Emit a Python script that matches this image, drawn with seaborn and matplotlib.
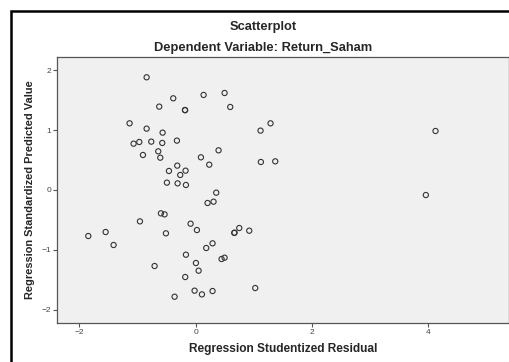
import matplotlib
matplotlib.use("Agg")
import matplotlib.pyplot as plt
import seaborn as sns
import pandas as pd
from matplotlib.patches import Rectangle

# Regression Studentized Residual (x) / Regression Standardized Predicted Value (y)
residual = [-0.842, -0.384, 0.138, 0.499, -0.625, -0.183, -0.180, 0.596, -1.135, 1.289,
            -0.842, -0.567, 1.117, 4.126, -1.066, -0.968, -0.762, -0.573, -0.321, -0.642,
            0.395, -0.905, -0.607, 0.092, 0.235, 1.123, 1.370, -0.315, -0.458, -0.172,
            -0.264, -0.493, -0.309, -0.166, 0.355, 3.960, 0.309, 0.206, -0.596, -0.533,
            -0.957, -0.086, -1.547, -1.845, -0.510, 0.023, 0.751, 0.670, 0.665, 0.923,
            -1.410, 0.292, 0.183, -0.166, 0.447, 0.499, 0.006, -0.705, 0.052, -0.178,
            -0.017, 0.292, 0.109, 1.026, -0.361]
predicted = [1.883, 1.532, 1.588, 1.621, 1.393, 1.337, 1.333, 1.387, 1.114, 1.114,
             1.025, 0.958, 0.992, 0.986, 0.774, 0.802, 0.808, 0.786, 0.825, 0.646,
             0.663, 0.585, 0.540, 0.546, 0.423, 0.468, 0.479, 0.407, 0.318, 0.323,
             0.251, 0.123, 0.111, 0.084, -0.045, -0.084, -0.195, -0.217, -0.390, -0.407,
             -0.524, -0.563, -0.702, -0.769, -0.724, -0.669, -0.635, -0.713, -0.717, -0.680,
             -0.919, -0.891, -0.969, -1.081, -1.153, -1.131, -1.220, -1.270, -1.348, -1.454,
             -1.682, -1.688, -1.744, -1.638, -1.783]

x_ticks = [-2, 0, 2, 4]
y_ticks = [-2, -1, 0, 1, 2]

df = pd.DataFrame({"resid": residual, "pred": predicted})

sns.set_style("white")
plt.rcParams["font.family"] = ["Liberation Sans", "DejaVu Sans"]

fig = plt.figure(figsize=(5.10, 3.62), dpi=100)
ax = fig.add_axes([57.3 / 510, 1 - 322.7 / 362, (509 - 57.3) / 510, (322.7 - 57.3) / 362])
ax.set_facecolor("#f0f0f0")

sns.scatterplot(data=df, x="resid", y="pred", ax=ax, marker="o", s=14,
                facecolor="none", edgecolor="#333333", linewidth=0.8, legend=False)

ax.set_xlim(-2.378, 5.39)
ax.set_ylim(-2.217, 2.217)
ax.set_xticks(x_ticks)
ax.set_yticks(y_ticks)
ax.tick_params(axis="both", direction="out", length=3, width=0.8, color="#555555",
               labelsize=6, labelcolor="#444444", pad=1.5)
ax.tick_params(axis="both", which="both", bottom=True, left=True)
for sp in ax.spines.values():
    sp.set_color("#555555")
    sp.set_linewidth(0.9)

ax.set_xlabel("Regression Studentized Residual", fontsize=8.6, fontweight="bold", va="center")
ax.xaxis.set_label_coords(0.5, (322.7 - 349) / 265.4)
ax.set_ylabel("Regression Standardized Predicted Value", fontsize=7.9, fontweight="bold", va="center")
ax.yaxis.set_label_coords((30 - 57.3) / 451.7, 0.5)

fig.text(263 / 510, 1 - 26.7 / 362, "Scatterplot", ha="center", va="center",
         fontsize=9.3, fontweight="bold")
fig.text(263 / 510, 1 - 48.3 / 362, "Dependent Variable: Return_Saham", ha="center", va="center",
         fontsize=9.3, fontweight="bold")

# outer frame of the chart (cut off at right and bottom)
fig.patches.append(Rectangle((11 / 510, -0.1), 1.2, 1.1 - 10.7 / 362,
                             transform=fig.transFigure, fill=False, edgecolor="black",
                             linewidth=1.8, zorder=10))

fig.savefig("out.png", dpi=100)
plt.close(fig)
